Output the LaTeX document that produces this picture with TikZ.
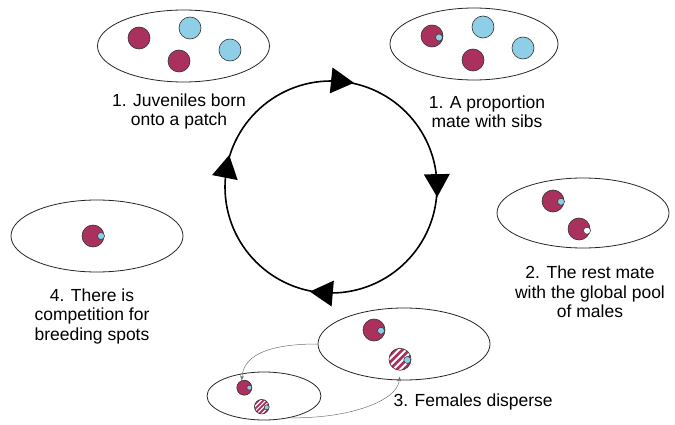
\documentclass[tikz,border=0pt]{standalone}
\usepackage{fontspec}
\setmainfont{Liberation Sans}
\usetikzlibrary{shapes.geometric,arrows.meta}
\definecolor{maroon}{RGB}{170,49,94}
\definecolor{skyb}{RGB}{142,206,230}
\begin{document}
\begin{tikzpicture}[x=1pt,y=1pt,
 patch/.style={draw=black!85,line width=0.8pt,ellipse,inner sep=0pt},
 fem/.style={circle,draw=black!80,line width=0.6pt,fill=maroon,minimum size=22pt,inner sep=0pt},
 smallfem/.style={fem,minimum size=15pt},
 male/.style={circle,draw=black!80,line width=0.6pt,fill=skyb,minimum size=22pt,inner sep=0pt},
 sperm/.style={circle,draw=black!80,line width=0.5pt,fill=skyb,minimum size=7pt,inner sep=0pt},
 smallsperm/.style={sperm,minimum size=5pt},
 striped/.style 2 args={circle,draw=black!80,line width=0.6pt,fill=white,inner sep=0pt,
   path picture={\foreach \k in {-3,...,3}{\draw[maroon,line width=#2]
     ([shift={(\k*#1-15pt,-15pt)}]path picture bounding box.center) -- ++(30pt,30pt);}}},
 lbl/.style={align=center,font=\fontsize{17.5}{19.5}\selectfont},
 disp/.style={draw=black!55,line width=0.5pt,-{Stealth[length=5pt,width=4pt]}},
 cyclearrow/.style={fill=black}]
\useasboundingbox (0,0) rectangle (675,424);

% life-cycle circle
\node[circle,draw,line width=1.6pt,minimum size=212pt,inner sep=0pt] (cyc) at (331,237) {};
\foreach \a in {84,1,-95,169}{
  \begin{scope}[shift={(cyc.center)},rotate=\a]
    \fill[cyclearrow] (106,-12) -- (93,11) -- (119,11) -- cycle;
  \end{scope}}

% patches
\node[patch,minimum width=172pt,minimum height=72pt] (E1) at (183.5,378) {};
\node[patch,minimum width=168pt,minimum height=72pt] (E2) at (474,380) {};
\node[patch,minimum width=172pt,minimum height=70pt] (E3) at (583,211) {};
\node[patch,minimum width=172pt,minimum height=72pt] (E4) at (97,188) {};
\node[patch,minimum width=172pt,minimum height=72pt] (E5) at (404,80) {};
\node[patch,minimum width=114pt,minimum height=48pt] (E6) at (264,28) {};

% patch 1
\node[fem] (a1) at (139,386) {};
\node[male] (a2) at (190,396) {};
\node[fem] (a3) at (179,363) {};
\node[male] (a4) at (230,374) {};
% patch 2
\node[fem] (b1) at (432,388) {};
\node[sperm] (b1s) at (439,386.5) {};
\node[male] (b2) at (483,397) {};
\node[fem] (b3) at (473,364) {};
\node[male] (b4) at (523,376) {};
% patch 3
\node[fem] (c1) at (553,223) {};
\node[sperm] (c1s) at (561,222.3) {};
\node[fem] (c2) at (579,195) {};
\node[sperm,fill=white] (c2s) at (587,193.3) {};
% patch 4
\node[fem] (d1) at (93,188) {};
\node[sperm] (d1s) at (101,188) {};
% patch 5
\node[fem] (f1) at (374,94) {};
\node[sperm] (f1s) at (381,93.3) {};
\node[striped={7pt}{2.6pt},minimum size=22pt] (s5) at (400,64.7) {};
\node[sperm] (s5s) at (407.3,64) {};
% patch 6
\node[smallfem] (g1) at (244.3,36.3) {};
\node[smallsperm] (g1s) at (249.3,36.3) {};
\node[striped={4.6pt}{1.8pt},minimum size=14.5pt] (s6) at (261.7,17.3) {};
\node[smallsperm] (s6s) at (266.7,16.7) {};

% dispersal connectors
\draw[disp] (E5.west) .. controls +(-50,0) and +(2,25) .. (g1.110);
\draw[disp,shorten >=6pt] (E6.320) .. controls +(60,-1) and +(-2,-30) .. (s5.south);

% labels
\node[lbl] (t1) at (179,312.5) {1. Juveniles born\\onto a patch};
\node[lbl] (t2) at (487,312.5) {1. A proportion\\mate with sibs};
\node[lbl] (t3) at (590,132) {2. The rest mate\\with the global pool\\of males};
\node[lbl] (t4) at (92,108) {4. There is\\competition for\\breeding spots};
\node[lbl,anchor=west] (t5) at (390,22) {3. Females disperse};
\end{tikzpicture}
\end{document}
